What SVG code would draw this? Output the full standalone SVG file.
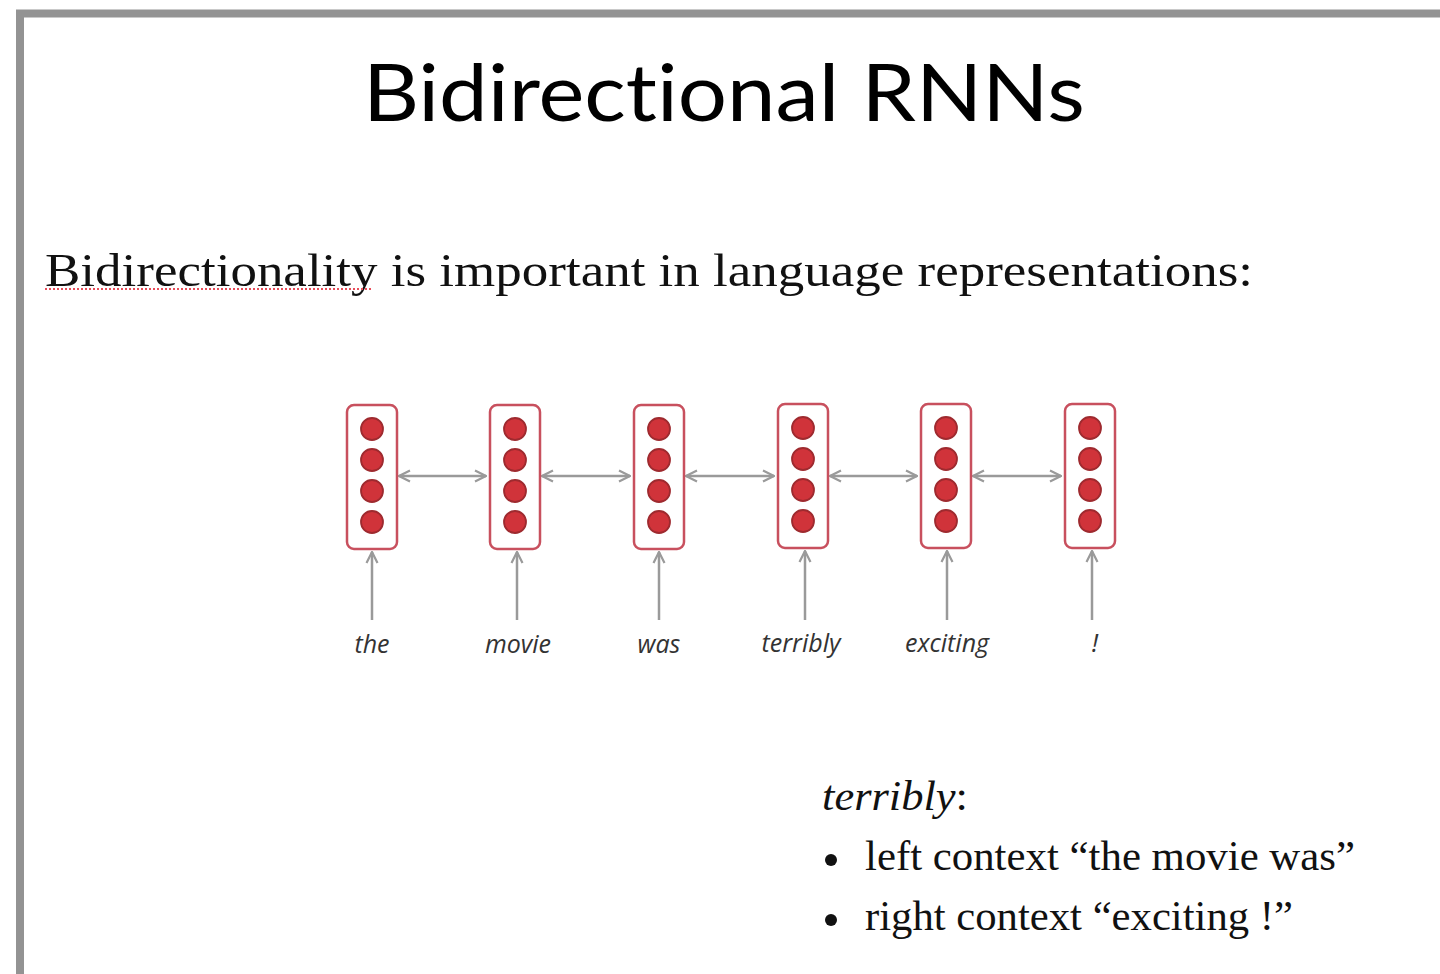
<svg xmlns="http://www.w3.org/2000/svg" width="1440" height="974" viewBox="0 0 1440 974">
<defs>
<style>
.box{fill:#fff;stroke:#c8505e;stroke-width:2.5}
.dot{fill:#d0333a;stroke:#9e2a2f;stroke-width:1.8}
.conn{stroke:#9a9a9a;stroke-width:2.5;fill:none}
.lbl{font-family:"Open Sans","DejaVu Sans",sans-serif;font-style:italic;font-size:25px;fill:#333;text-anchor:middle}
.serif{font-family:"Liberation Serif","DejaVu Serif",serif;fill:#111}
.title{font-family:Lato,"Open Sans",sans-serif;font-size:80px;fill:#000;text-anchor:middle;font-variant-ligatures:none;font-feature-settings:"liga" 0,"clig" 0,"dlig" 0}
</style>
<marker id="ah" viewBox="0 0 10 10" refX="9" refY="5" markerWidth="5.5" markerHeight="5.5" orient="auto-start-reverse" markerUnits="strokeWidth">
<path d="M1,1 L9,5 L1,9" fill="none" stroke="#9a9a9a" stroke-width="1.6"/>
</marker>
<g id="cell">
<rect class="box" x="-25" y="0" width="50" height="144" rx="7"/>
<circle class="dot" cx="0" cy="24" r="11"/>
<circle class="dot" cx="0" cy="55" r="11"/>
<circle class="dot" cx="0" cy="86" r="11"/>
<circle class="dot" cx="0" cy="117" r="11"/>
</g>
</defs>
<rect x="0" y="0" width="1440" height="974" fill="#fff"/>
<rect x="20" y="13.5" width="1440" height="980" fill="none" stroke="#939393" stroke-width="8"/>
<text class="title" x="724" y="121" textLength="722" lengthAdjust="spacingAndGlyphs">Bidirectional RNNs</text>
<text class="serif" x="45" y="286" font-size="47" textLength="1208" lengthAdjust="spacingAndGlyphs">Bidirectionality is important in language representations:</text>
<line x1="45" y1="289" x2="373" y2="289" stroke="#e84d5a" stroke-width="2" stroke-dasharray="2,2"/>
<g id="connectors">
<line class="conn" x1="399" y1="476" x2="486" y2="476" marker-start="url(#ah)" marker-end="url(#ah)"/>
<line class="conn" x1="542" y1="476" x2="630" y2="476" marker-start="url(#ah)" marker-end="url(#ah)"/>
<line class="conn" x1="686" y1="476" x2="774" y2="476" marker-start="url(#ah)" marker-end="url(#ah)"/>
<line class="conn" x1="830" y1="476" x2="917" y2="476" marker-start="url(#ah)" marker-end="url(#ah)"/>
<line class="conn" x1="973" y1="476" x2="1061" y2="476" marker-start="url(#ah)" marker-end="url(#ah)"/>
<line class="conn" x1="372" y1="620" x2="372" y2="552" marker-end="url(#ah)"/>
<line class="conn" x1="517" y1="620" x2="517" y2="552" marker-end="url(#ah)"/>
<line class="conn" x1="659" y1="620" x2="659" y2="552" marker-end="url(#ah)"/>
<line class="conn" x1="805" y1="620" x2="805" y2="551" marker-end="url(#ah)"/>
<line class="conn" x1="947" y1="620" x2="947" y2="551" marker-end="url(#ah)"/>
<line class="conn" x1="1092" y1="620" x2="1092" y2="551" marker-end="url(#ah)"/>
</g>
<g id="n_the"><use href="#cell" x="372" y="405"/><text class="lbl" x="372" y="653">the</text></g>
<g id="n_movie"><use href="#cell" x="515" y="405"/><text class="lbl" x="518" y="653">movie</text></g>
<g id="n_was"><use href="#cell" x="659" y="405"/><text class="lbl" x="659" y="653">was</text></g>
<g id="n_terribly"><use href="#cell" x="803" y="404"/><text class="lbl" x="801" y="652">terribly</text></g>
<g id="n_exciting"><use href="#cell" x="946" y="404"/><text class="lbl" x="947" y="652">exciting</text></g>
<g id="n_excl"><use href="#cell" x="1090" y="404"/><text class="lbl" x="1095" y="652">!</text></g>
<text class="serif" x="822" y="810" font-size="42" font-style="italic" textLength="146" lengthAdjust="spacingAndGlyphs">terribly<tspan font-style="normal">:</tspan></text>
<circle cx="831" cy="860" r="6" fill="#111"/>
<text class="serif" x="865" y="870" font-size="42" textLength="490" lengthAdjust="spacingAndGlyphs">left context “the movie was”</text>
<circle cx="831" cy="920" r="6" fill="#111"/>
<text class="serif" x="865" y="930" font-size="42" textLength="428" lengthAdjust="spacingAndGlyphs">right context “exciting !”</text>
</svg>
